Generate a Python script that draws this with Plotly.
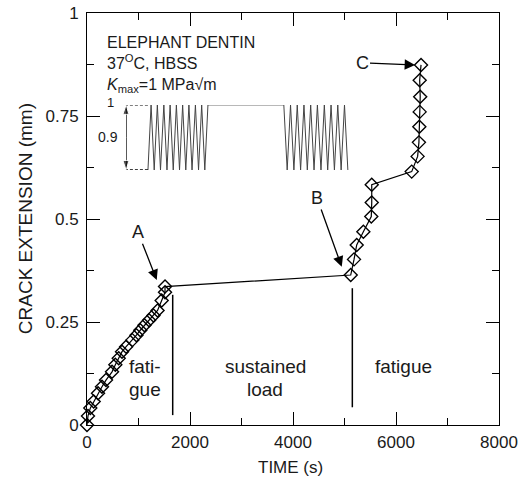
import plotly.graph_objects as go

# ---- data ----
time_s = [0, 19, 64, 130, 214, 291, 369, 486, 550, 616, 680, 760, 880, 960, 1035,
          1115, 1205, 1290, 1370, 1450, 1515, 1515,
          5121, 5185, 5237, 5366, 5520, 5529, 5529, 6305, 6420, 6445, 6453, 6460,
          6470, 6460, 6486]
crack_mm = [0, 0.022, 0.041, 0.057, 0.077, 0.093, 0.109, 0.129, 0.146, 0.162, 0.178,
            0.19, 0.206, 0.218, 0.23, 0.242, 0.254, 0.266, 0.278, 0.302, 0.322, 0.336,
            0.364, 0.402, 0.437, 0.469, 0.506, 0.540, 0.583, 0.615, 0.652, 0.686,
            0.724, 0.760, 0.797, 0.837, 0.874]

x_ticks = [0, 2000, 4000, 6000, 8000]
x_tick_text = ["0", "2000", "4000", "6000", "8000"]
y_ticks = [0, 0.25, 0.5, 0.75, 1]
y_tick_text = ["0", "0.25", "0.5", "0.75", "1"]

# phase boundaries (time, y from, y to)
boundary_t = [1664, 5152]
boundary_y0 = [0.024, 0.043]
boundary_y1 = [0.316, 0.332]

# point labels: name, target (t, y), label position (t, y)
point_names = ["A", "B", "C"]
point_t = [1354, 4946, 6370]
point_y = [0.352, 0.384, 0.874]
label_t = [990, 4467, 5340]
label_y = [0.468, 0.551, 0.879]

# phase texts
phase_text = ["fati-", "gue", "sustained", "load", "fatigue"]
phase_t = [1126, 1126, 3457, 3457, 6137]
phase_y = [0.143, 0.085, 0.143, 0.085, 0.143]

# inset load waveform (schematic units: time 0-100, K/Kmax 0.1-1)
wave_t = [9.8, 11.2, 12.6, 14.0, 15.4, 16.9, 18.3, 19.7, 21.1, 22.5, 23.9, 25.3,
          26.7, 28.1, 29.5, 31.0, 32.4, 33.8, 35.2, 36.6,
          70.5, 72.0, 73.5, 75.0, 76.5, 78.0, 79.5, 81.0, 82.5, 84.0, 85.5, 87.1,
          88.6, 90.1, 91.6, 93.1, 94.6, 96.1, 97.6, 99.1]
wave_k = [0.1, 1, 0.1, 1, 0.1, 1, 0.1, 1, 0.1, 1, 0.1, 1, 0.1, 1, 0.1, 1, 0.1, 1, 0.1, 1,
          1, 0.1, 1, 0.1, 1, 0.1, 1, 0.1, 1, 0.1, 1, 0.1, 1, 0.1, 1, 0.1, 1, 0.1, 1, 0.1]
k_max = 1
k_min = 0.1

FONT = "Liberation Sans, Arial, sans-serif"
TXT = "#1a1a1a"

fig = go.Figure()

fig.add_trace(go.Scatter(
    x=time_s, y=crack_mm, mode="lines+markers",
    line=dict(color="black", width=1.2),
    marker=dict(symbol="diamond-open", size=10, color="black", line=dict(width=1.4)),
    cliponaxis=False, showlegend=False))

# inset waveform
fig.add_trace(go.Scatter(
    x=wave_t, y=wave_k, xaxis="x2", yaxis="y2", mode="lines",
    line=dict(color="#444", width=1), showlegend=False))
fig.add_trace(go.Scatter(
    x=[-0.5, wave_t[0], None, -0.5, wave_t[0]], y=[k_max, k_max, None, k_min, k_min],
    xaxis="x2", yaxis="y2", mode="lines",
    line=dict(color="black", width=1.3, dash="3px,2px"), showlegend=False))
# inset double arrow (two halves from the middle, arrow markers at the ends)
k_mid = (k_max + k_min) / 2
for k_end in (k_max, k_min):
    fig.add_trace(go.Scatter(
        x=[0, 0], y=[k_mid, k_end], xaxis="x2", yaxis="y2", mode="lines+markers",
        line=dict(color="black", width=1.3),
        marker=dict(symbol="arrow", angleref="previous", size=[0, 10], color="black"),
        cliponaxis=False, showlegend=False))

for t, y0, y1 in zip(boundary_t, boundary_y0, boundary_y1):
    fig.add_shape(type="line", x0=t, x1=t, y0=y0, y1=y1, xref="x", yref="y",
                  line=dict(color="black", width=1.5))

anns = []
for n, t, y, lt, ly in zip(point_names, point_t, point_y, label_t, label_y):
    anns.append(dict(x=t, y=y, ax=lt, ay=ly, xref="x", yref="y", axref="x", ayref="y",
                     text=n, showarrow=True, arrowhead=2, arrowsize=1.6, arrowwidth=1.3,
                     arrowcolor="black", standoff=0, startstandoff=0,
                     font=dict(family=FONT, size=18, color=TXT)))
for s, t, y in zip(phase_text, phase_t, phase_y):
    anns.append(dict(x=t, y=y, xref="x", yref="y", text=s, showarrow=False,
                     font=dict(family=FONT, size=19, color=TXT)))

anns.append(dict(x=0.071, y=0.782, xref="paper", yref="paper", xanchor="right", yanchor="middle",
                 text="1", showarrow=False, font=dict(family=FONT, size=13, color=TXT)))
anns.append(dict(x=0.081, y=0.699, xref="paper", yref="paper", xanchor="right", yanchor="middle",
                 text="0.9", showarrow=False, font=dict(family=FONT, size=14, color=TXT)))

# header text
head = ["ELEPHANT DENTIN", "37<sup>O</sup>C, HBSS", "<i>K</i><sub>max</sub>=1 MPa√m"]
anns.append(dict(x=0.044, y=0.955, xref="paper", yref="paper", xanchor="left", yanchor="top",
                 align="left", text="<br>".join(head), showarrow=False,
                 font=dict(family=FONT, size=16, color=TXT)))

# axis titles
anns.append(dict(x=-0.150, y=0.5, xref="paper", yref="paper", textangle=-90,
                 xanchor="center", yanchor="middle", text="CRACK EXTENSION (mm)",
                 showarrow=False, font=dict(family=FONT, size=19, color=TXT)))
anns.append(dict(x=0.495, y=-0.104, xref="paper", yref="paper",
                 xanchor="center", yanchor="middle", text="TIME (s)",
                 showarrow=False, font=dict(family=FONT, size=17, color=TXT)))

fig.update_layout(
    width=520, height=479,
    margin=dict(l=87, r=21, t=13, b=54, autoexpand=False),
    paper_bgcolor="white", plot_bgcolor="white",
    font=dict(family=FONT, size=17, color=TXT),
    annotations=anns,
    xaxis=dict(range=[0, 8000], tickvals=x_ticks, ticktext=x_tick_text,
               ticks="inside", ticklen=13, tickwidth=1, tickcolor="black",
               minor=dict(dtick=1000, ticks="inside", ticklen=7, tickwidth=1, tickcolor="black"),
               showline=True, linecolor="black", linewidth=1, mirror="ticks",
               showgrid=False, zeroline=False, ticklabelstandoff=2, automargin=False,
               tickfont=dict(size=17)),
    yaxis=dict(range=[0, 1], tickvals=y_ticks, ticktext=y_tick_text,
               ticks="inside", ticklen=13, tickwidth=1, tickcolor="black",
               minor=dict(dtick=0.125, ticks="inside", ticklen=7, tickwidth=1, tickcolor="black"),
               showline=True, linecolor="black", linewidth=1, mirror="ticks",
               showgrid=False, zeroline=False, ticklabelstandoff=4, automargin=False,
               tickfont=dict(size=17)),
    xaxis2=dict(domain=[0.0947, 0.638], range=[0, 100], anchor="y2", visible=False),
    yaxis2=dict(domain=[0.619, 0.777], range=[0.1, 1], anchor="x2", visible=False),
)

fig.write_html("out.html")
